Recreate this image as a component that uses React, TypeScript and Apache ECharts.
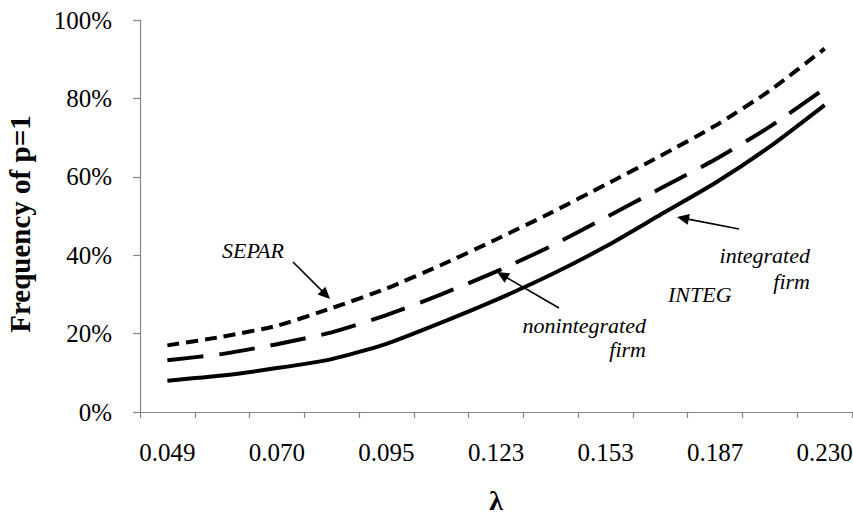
import React, { useEffect, useRef } from "react";
import * as echarts from "echarts";

const lambdas = ["0.049", "0.059", "0.070", "0.082", "0.095", "0.109", "0.123", "0.138", "0.153", "0.170", "0.187", "0.208", "0.230"];
const separ = [17.0, 19.2, 22.0, 26.5, 31.5, 37.5, 44.0, 50.8, 58.0, 65.3, 73.0, 82.0, 92.7];
const nonintegrated = [13.2, 14.8, 17.3, 20.3, 24.7, 30.0, 35.8, 42.3, 49.6, 57.0, 64.4, 72.8, 82.5];
const integ = [8.0, 9.3, 11.2, 13.5, 17.4, 22.8, 28.6, 35.0, 42.2, 50.3, 58.4, 67.7, 78.3];
const yTicks = { min: 0, max: 100, interval: 20 };

const FONT = "Liberation Serif";

function arrow(x1: number, y1: number, x2: number, y2: number) {
  const dx = x2 - x1;
  const dy = y2 - y1;
  const len = Math.sqrt(dx * dx + dy * dy);
  const ux = dx / len;
  const uy = dy / len;
  const hl = 12;
  const hw = 5.5;
  const bx = x2 - ux * hl;
  const by = y2 - uy * hl;
  return {
    type: "group",
    children: [
      {
        type: "line",
        shape: { x1, y1, x2: bx + ux * 2, y2: by + uy * 2 },
        style: { stroke: "#000", lineWidth: 1.6 },
      },
      {
        type: "polygon",
        shape: {
          points: [
            [x2, y2],
            [bx - uy * hw, by + ux * hw],
            [bx + uy * hw, by - ux * hw],
          ],
        },
        style: { fill: "#000" },
      },
    ],
  };
}

function label(text: string, x: number, y: number, align: string) {
  return {
    type: "text",
    x,
    y,
    style: {
      text,
      fontFamily: FONT,
      fontStyle: "italic",
      fontSize: 22,
      fill: "#000",
      align,
      verticalAlign: "middle",
    },
  };
}

export default function App() {
  const ref = useRef<HTMLDivElement>(null);
  useEffect(() => {
    if (!ref.current) return;
    const chart = echarts.init(ref.current, null, { renderer: "svg" });
    const axisColor = "#868686";
    chart.setOption({
      animation: false,
      backgroundColor: "#fff",
      grid: { left: 140, right: 1, top: 20, bottom: 103, containLabel: false, outerBoundsMode: "none" },
      xAxis: {
        type: "category",
        data: lambdas,
        boundaryGap: true,
        name: "λ",
        nameLocation: "middle",
        nameGap: 74,
        nameTextStyle: { fontFamily: FONT, fontSize: 28, fontWeight: "bold", color: "#000" },
        axisLine: { show: true, lineStyle: { color: axisColor, width: 1.2 } },
        axisTick: { show: true, interval: 0, alignWithLabel: false, length: 6, lineStyle: { color: axisColor, width: 1.2 } },
        axisLabel: { interval: 1, margin: 28, fontFamily: FONT, fontSize: 25, color: "#000" },
        splitLine: { show: false },
      },
      yAxis: {
        type: "value",
        min: yTicks.min,
        max: yTicks.max,
        interval: yTicks.interval,
        name: "Frequency of p=1",
        nameLocation: "middle",
        nameGap: 106,
        nameRotate: 90,
        nameTextStyle: { fontFamily: FONT, fontSize: 29, fontWeight: "bold", color: "#000", padding: [0, 16, 0, 0] },
        axisLine: { show: true, lineStyle: { color: axisColor, width: 1.2 } },
        axisTick: { show: true, length: 7, lineStyle: { color: axisColor, width: 1.2 } },
        axisLabel: { formatter: "{value}%", margin: 28, fontFamily: FONT, fontSize: 25, color: "#000" },
        splitLine: { show: false },
      },
      series: [
        {
          name: "SEPAR",
          type: "line",
          data: separ,
          smooth: 0.2,
          showSymbol: false,
          lineStyle: { color: "#000", width: 4, type: [12, 7], cap: "butt" },
        },
        {
          name: "nonintegrated firm",
          type: "line",
          data: nonintegrated,
          smooth: 0.2,
          showSymbol: false,
          lineStyle: { color: "#000", width: 4, type: [36, 16], cap: "butt" },
        },
        {
          name: "INTEG",
          type: "line",
          data: integ,
          smooth: 0.2,
          showSymbol: false,
          lineStyle: { color: "#000", width: 4, type: "solid" },
        },
      ],
      graphic: [
        label("SEPAR", 222, 250, "left"),
        arrow(293, 262, 330, 299),
        label("nonintegrated", 646, 325, "right"),
        label("firm", 646, 349, "right"),
        arrow(559, 308, 497, 272),
        label("integrated", 810, 255, "right"),
        label("firm", 810, 281, "right"),
        arrow(739, 229, 677, 217),
        label("INTEG", 668, 294, "left"),
      ],
    });
    return () => chart.dispose();
  }, []);
  return (
    <div
      ref={ref}
      style={{ position: "fixed", left: 0, top: 0, width: 853, height: 515, background: "#fff" }}
    />
  );
}
